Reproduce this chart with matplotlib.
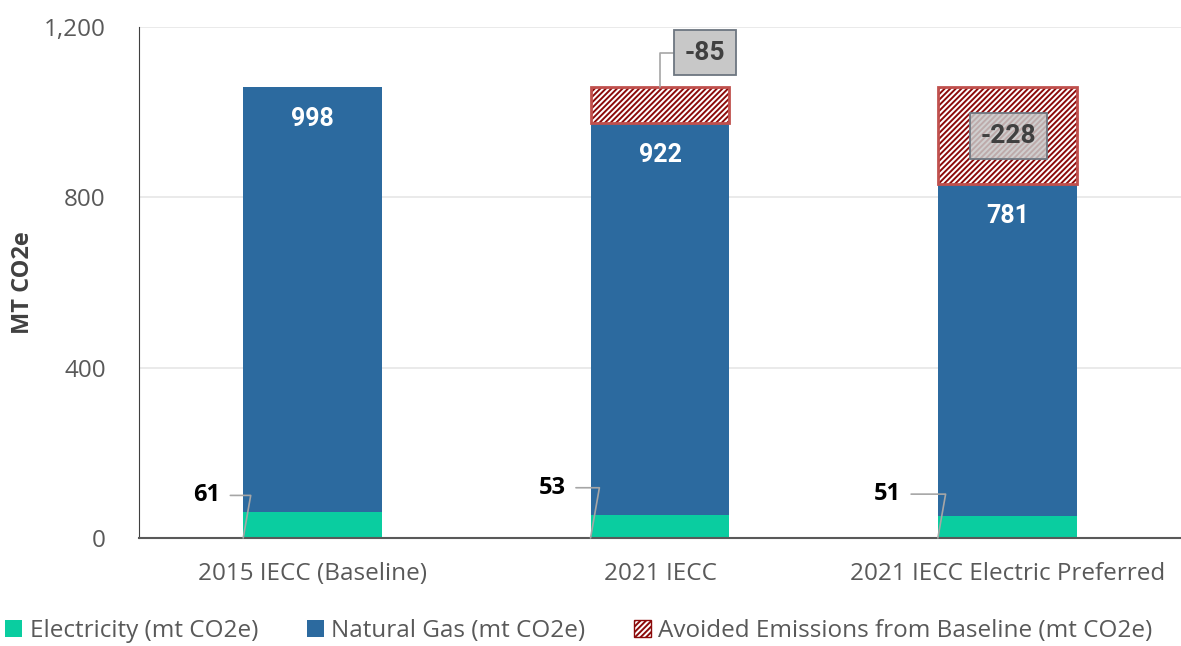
import matplotlib
matplotlib.use('Agg')
import matplotlib.pyplot as plt
import numpy as np
from matplotlib.patches import Patch

plt.rcParams['font.family'] = ['Open Sans', 'DejaVu Sans']
plt.rcParams['hatch.linewidth'] = 1.4

categories = ['2015 IECC (Baseline)', '2021 IECC', '2021 IECC Electric Preferred']
electricity = [61, 53, 51]
natural_gas = [998, 922, 781]
avoided = [0, -85, -228]
yticks = [0, 400, 800, 1200]

c_elec = '#0acda0'
c_gas = '#2c6a9f'
c_hatch = '#8b0a0a'
c_hatch_edge = '#c0504d'

fig = plt.figure(figsize=(11.81, 6.46), dpi=100)
ax = fig.add_axes([0.1177, 0.1672, 0.8823, 0.7910])

x = np.arange(len(categories))
w = 0.4
elec = np.array(electricity)
gas = np.array(natural_gas)
avd = -np.array(avoided)
has_avd = avd > 0

ax.bar(x, elec, w, color=c_elec, zorder=2)
ax.bar(x, gas, w, bottom=elec, color=c_gas, zorder=2)
ax.bar(x[has_avd], avd[has_avd], w, bottom=(elec + gas)[has_avd], facecolor='white',
       edgecolor=c_hatch, hatch='//////', linewidth=0, zorder=2)
ax.bar(x[has_avd], avd[has_avd], w, bottom=(elec + gas)[has_avd], facecolor='none',
       edgecolor=c_hatch_edge, linewidth=2, zorder=3)

ax.set_xlim(-0.5, 2.5)
ax.set_ylim(0, 1200)
ax.set_yticks(yticks)
ax.set_yticklabels(['{:,}'.format(v) for v in yticks])
ax.set_xticks(x)
ax.set_xticklabels(categories)
ax.tick_params(axis='both', length=0, labelsize=17.5, labelcolor='#595959')
ax.tick_params(axis='x', pad=17)
ax.tick_params(axis='y', pad=24)
ax.grid(axis='y', color='#e6e6e6', linewidth=1.2, zorder=0)
for s in ['top', 'right']:
    ax.spines[s].set_visible(False)
ax.spines['left'].set_color('#404040')
ax.spines['bottom'].set_color('#595959')
ax.spines['bottom'].set_linewidth(1.5)
ax.set_ylabel('MT CO2e', fontsize=17, fontweight='bold', color='#404040', labelpad=6)

# natural gas labels inside the blue segment
for xi, e, g in zip(x, elec, gas):
    ax.annotate(f'{g}', (xi, e + g), xytext=(0, -23), textcoords='offset points',
                ha='center', va='center', color='white', fontsize=18,
                fontweight='bold', family='Roboto', zorder=5)

# electricity labels with leader lines
elec_pos = [(-0.265, 100), (-0.27, 118), (-0.305, 103)]
for xi, e, (dx, ty) in zip(x, elec, elec_pos):
    ax.annotate(f'{e}', (xi - w / 2, 0), xytext=(xi + dx, ty),
                textcoords='data', ha='right', va='center', fontsize=17,
                fontweight='bold', color='black',
                arrowprops=dict(arrowstyle='-', color='#a6a6a6', lw=1.2,
                                connectionstyle='angle,angleA=0,angleB=80,rad=0',
                                shrinkA=5, shrinkB=0), zorder=5)

# avoided emissions labels
box = dict(boxstyle='square,pad=0.4', facecolor='#c8c8c8', edgecolor='#6d7680', lw=1.3)
ax.annotate(f'{avoided[1]}', (x[1], elec[1] + gas[1] + avd[1]), xytext=(x[1] + 0.13, 1140),
            textcoords='data', ha='center', va='center', fontsize=19, fontweight='bold',
            color='#404040', family='Roboto', bbox=box,
            arrowprops=dict(arrowstyle='-', color='#a6a6a6', lw=1.2,
                            connectionstyle='angle,angleA=0,angleB=90,rad=0',
                            shrinkA=0, shrinkB=0), zorder=5)
box2 = dict(boxstyle='square,pad=0.4', facecolor=(0.78, 0.78, 0.78, 0.85),
            edgecolor='#6d7680', lw=1.3)
ax.text(x[2] + 0.003, 944, f'{avoided[2]}', ha='center', va='center',
        fontsize=19, fontweight='bold', color='#404040', family='Roboto', bbox=box2, zorder=5)

handles = [
    Patch(facecolor=c_elec, label='Electricity (mt CO2e)'),
    Patch(facecolor=c_gas, label='Natural Gas (mt CO2e)'),
    Patch(facecolor='white', edgecolor=c_hatch, hatch='//////', label='Avoided Emissions from Baseline (mt CO2e)'),
]
fig.legend(handles=handles, loc='lower left', bbox_to_anchor=(0.002, 0.0), ncol=3,
           frameon=False, fontsize=17.5, labelcolor='#595959', handlelength=0.7,
           handleheight=0.7, handletextpad=0.3, columnspacing=2.0, borderaxespad=0,
           borderpad=0.12)

fig.savefig('out.png', dpi=100)
